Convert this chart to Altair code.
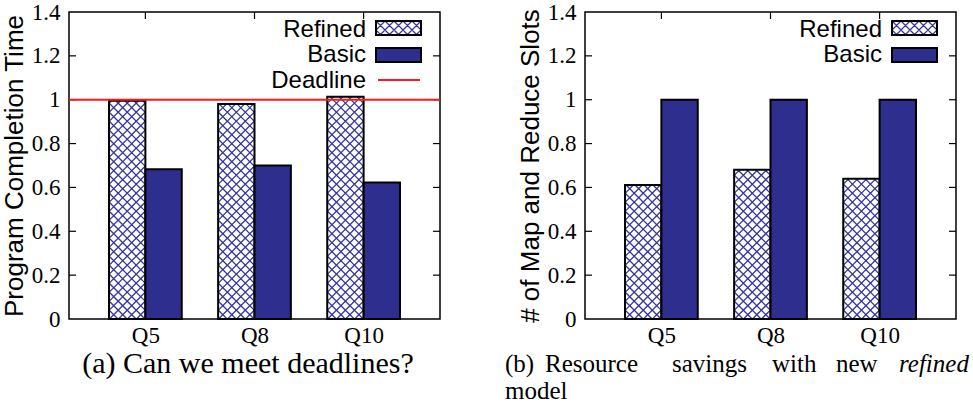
import json
import altair as alt
import pandas as pd

# ---------------- data ----------------
QUERIES = ["Q5", "Q8", "Q10"]
SERIES = ["Refined", "Basic"]
TIME_REFINED = [0.995, 0.980, 1.013]
TIME_BASIC = [0.683, 0.700, 0.623]
SLOTS_REFINED = [0.611, 0.681, 0.640]
SLOTS_BASIC = [1.0, 1.0, 1.0]
DEADLINE = [1.0]
Y_TICKS = [0, 0.2, 0.4, 0.6, 0.8, 1.0, 1.2, 1.4]
LEGEND_LABELS = ["Refined", "Basic", "Deadline"]
Y_TITLES = ["Program Completion Time", "# of Map and Reduce Slots"]

# ---------------- layout / style ----------------
W, H = 371, 307
X_DOMAIN = [-0.7, 2.7]
Y_DOMAIN = [0, 1.4]
BAR_W = 1 / 3
NAVY = "#2e2e8e"
HATCH = "#34349a"
RED = "#ff1a1a"
SERIF = "Liberation Serif"
SANS = "Liberation Sans"
UX = W / (X_DOMAIN[1] - X_DOMAIN[0])
UY = H / (Y_DOMAIN[1] - Y_DOMAIN[0])
K = UX / UY                 # y-data per x-data for a 45 degree line
PERIOD_PX = 9
P = PERIOD_PX / UY          # hatch spacing in y-data units

xs = alt.Scale(domain=X_DOMAIN, nice=False, zero=False)
ys = alt.Scale(domain=Y_DOMAIN, nice=False, zero=False)


def frame(ref, basic):
    return pd.DataFrame({
        "query": QUERIES * 2,
        "series": [SERIES[0]] * len(QUERIES) + [SERIES[1]] * len(QUERIES),
        "value": list(ref) + list(basic),
    })


def hatch_path(wpx, hpx, period):
    s = wpx / 2.0
    hw, hh = 1.0, hpx / wpx
    step = period / s
    parts = []
    c = -(hw + hh)
    while c <= hw + hh + 1e-9:
        lo, hi = max(-hw, -hh - c), min(hw, hh - c)
        if hi > lo:
            parts.append(f"M{lo:.3f},{lo + c:.3f}L{hi:.3f},{hi + c:.3f}")
        lo, hi = max(-hw, c - hh), min(hw, c + hh)
        if hi > lo:
            parts.append(f"M{lo:.3f},{c - lo:.3f}L{hi:.3f},{c - hi:.3f}")
        c += step
    return "".join(parts)


def one(text=""):
    return pd.DataFrame({"t": [text]})


def panel(ref, basic, ytitle, with_deadline, caption):
    df = frame(ref, basic)
    base = alt.Chart(df).transform_calculate(
        idx=f"indexof({json.dumps(QUERIES)}, datum.query)"
    ).transform_calculate(
        x0=f"datum.idx - (datum.series == '{SERIES[0]}' ? {BAR_W} : 0)"
    ).transform_calculate(
        x1=f"datum.x0 + {BAR_W}"
    )

    x_axis = alt.Axis(values=list(range(len(QUERIES))),
                      labelExpr=f"{json.dumps(QUERIES)}[datum.value]",
                      ticks=False, domain=False, grid=False, title=None,
                      labelFont=SERIF, labelFontSize=23, labelColor="black",
                      labelPadding=5)
    y_axis = alt.Axis(values=Y_TICKS, format="~g", ticks=False, domain=False,
                      grid=False, title=ytitle, titleFont=SANS, titleFontSize=26,
                      titleFontWeight="normal", titleColor="black", titlePadding=4,
                      labelFont=SERIF, labelFontSize=23, labelColor="black",
                      labelPadding=9)

    def X(field):
        return alt.X(field, scale=xs, axis=x_axis)

    def Y(field):
        return alt.Y(field, scale=ys, axis=y_axis)

    refined = base.transform_filter(alt.datum.series == SERIES[0])
    white = refined.mark_rect(fill="white", stroke=None).encode(
        x=X("x0:Q"), x2="x1:Q", y=Y("value:Q"), y2=alt.datum(0))

    hatch = refined.transform_calculate(
        cs=f"sequence({-BAR_W * K}, datum.value, {P})"
    ).transform_flatten(["cs"]).transform_calculate(
        fam="[1, -1]"
    ).transform_flatten(["fam"]).transform_calculate(
        u0=f"max(0, -datum.cs / {K})"
    ).transform_calculate(
        u1=f"min({BAR_W}, (datum.value - datum.cs) / {K})"
    ).transform_filter("datum.u1 > datum.u0").transform_calculate(
        ys=f"datum.cs + datum.u0 * {K}"
    ).transform_calculate(
        ye=f"datum.cs + datum.u1 * {K}"
    ).transform_calculate(
        hx0=f"datum.fam == 1 ? datum.x0 + datum.u0 : datum.x1 - datum.u0"
    ).transform_calculate(
        hx1=f"datum.fam == 1 ? datum.x0 + datum.u1 : datum.x1 - datum.u1"
    ).mark_rule(color=HATCH, strokeWidth=1.3).encode(
        x=X("hx0:Q"), x2="hx1:Q", y=Y("ys:Q"), y2="ye:Q")

    outline = refined.mark_rect(fillOpacity=0, stroke="black", strokeWidth=2).encode(
        x=X("x0:Q"), x2="x1:Q", y=Y("value:Q"), y2=alt.datum(0))

    basic_bars = base.transform_filter(alt.datum.series == SERIES[1]).mark_rect(
        fill=NAVY, stroke="black", strokeWidth=2).encode(
        x=X("x0:Q"), x2="x1:Q", y=Y("value:Q"), y2=alt.datum(0))

    tick_df = pd.DataFrame({"t": Y_TICKS[1:-1]})
    lticks = alt.Chart(tick_df).mark_rule(color="black", strokeWidth=1.2).encode(
        y=Y("t:Q"), x=alt.value(0), x2=alt.value(7))
    rticks = alt.Chart(tick_df).mark_rule(color="black", strokeWidth=1.2).encode(
        y=Y("t:Q"), x=alt.value(W - 7), x2=alt.value(W))
    tticks = alt.Chart(pd.DataFrame({"i": list(range(len(QUERIES)))})).mark_rule(
        color="black", strokeWidth=1.2).encode(
        x=X("i:Q"), y=alt.value(0), y2=alt.value(7))

    layers = [white, hatch, outline, basic_bars, lticks, rticks, tticks]

    if with_deadline:
        layers.append(alt.Chart(pd.DataFrame({"d": DEADLINE})).mark_rule(
            color=RED, strokeWidth=2).encode(
            y=Y("d:Q"), x=alt.value(0), x2=alt.value(W)))

    # legend (key) in the upper right, gnuplot style: text then sample
    n_items = 3 if with_deadline else 2
    text_x = 297
    base_y = [25, 50, 76]
    for i in range(n_items):
        layers.append(alt.Chart(one(LEGEND_LABELS[i])).mark_text(
            align="right", baseline="alphabetic", font=SANS, fontSize=24,
            color="black").encode(x=alt.value(text_x), y=alt.value(base_y[i]),
                                  text="t:N"))
    sx0, sx1 = 307, 352
    sy = [9, 23, 36, 50]
    layers.append(alt.Chart(one()).mark_rect(fill="white", stroke=None).encode(
        x=alt.value(sx0), x2=alt.value(sx1), y=alt.value(sy[0]), y2=alt.value(sy[1])))
    layers.append(alt.Chart(one()).mark_point(
        shape=hatch_path(sx1 - sx0, sy[1] - sy[0], PERIOD_PX), size=(sx1 - sx0) ** 2,
        filled=False, stroke=HATCH, strokeWidth=1.2, opacity=1).encode(
        x=alt.value((sx0 + sx1) / 2), y=alt.value((sy[0] + sy[1]) / 2)))
    layers.append(alt.Chart(one()).mark_rect(fillOpacity=0, stroke="black",
                                             strokeWidth=2).encode(
        x=alt.value(sx0), x2=alt.value(sx1), y=alt.value(sy[0]), y2=alt.value(sy[1])))
    layers.append(alt.Chart(one()).mark_rect(fill=NAVY, stroke="black",
                                             strokeWidth=2).encode(
        x=alt.value(sx0), x2=alt.value(sx1), y=alt.value(sy[2]), y2=alt.value(sy[3])))
    if with_deadline:
        layers.append(alt.Chart(one()).mark_rule(color=RED, strokeWidth=2).encode(
            x=alt.value(sx0 + 2), x2=alt.value(sx1 - 1), y=alt.value(68)))

    # caption text
    for (txt, x, y, align, style, limit, size) in caption:
        kw = dict(align=align, baseline="alphabetic", font=SERIF, fontSize=size,
                  fontStyle=style, color="black")
        if limit:
            kw["limit"] = limit
            kw["ellipsis"] = "\u200b"
        layers.append(alt.Chart(one(txt)).mark_text(**kw).encode(
            x=alt.value(x), y=alt.value(y), text="t:N"))

    return alt.layer(*layers).properties(width=W, height=H)


cap_a = [("(a) Can we meet deadlines?", 179, 361, "center", "normal", 0, 30)]
cap_b = [("(b)", -80, 360, "left", "normal", 0, 25),
         ("Resource", -40, 360, "left", "normal", 0, 25),
         ("savings", 87, 360, "left", "normal", 0, 25),
         ("with", 187, 360, "left", "normal", 0, 25),
         ("new", 251, 360, "left", "normal", 0, 25),
         ("refined", 314, 360, "left", "italic", 72, 25),
         ("model", -80, 387, "left", "normal", 0, 25)]

left = panel(TIME_REFINED, TIME_BASIC, Y_TITLES[0], True, cap_a)
right = panel(SLOTS_REFINED, SLOTS_BASIC, Y_TITLES[1], False, cap_b)

chart = alt.hconcat(left, right, spacing=62).properties(
    padding={"left": 0, "top": 0, "right": 0, "bottom": 0},
    background="white",
).configure_view(stroke="black", strokeWidth=1.5)

chart.save("out.html", embed_options={"renderer": "svg", "actions": False})
